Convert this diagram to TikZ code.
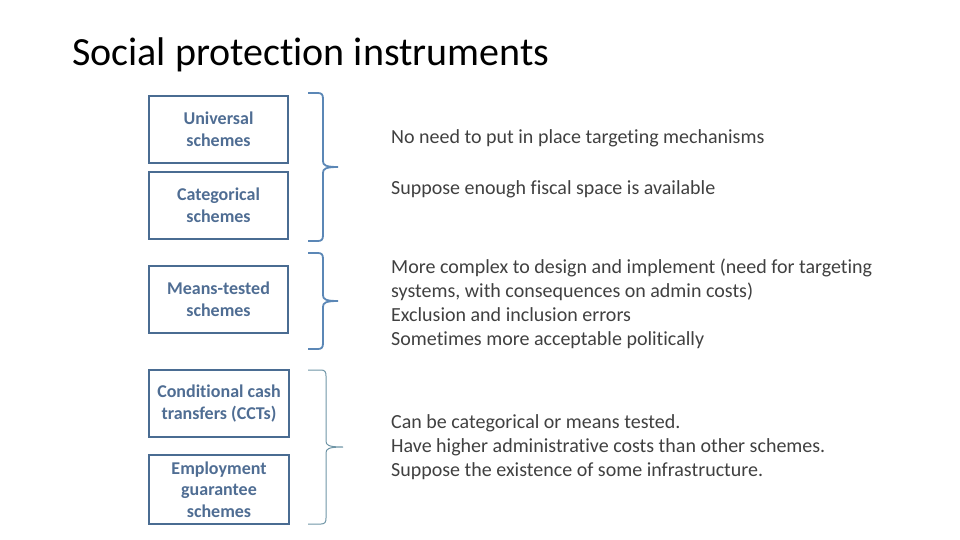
\documentclass[tikz,border=0pt]{standalone}
\usepackage{fontspec}
\setmainfont{Carlito}[Ligatures={NoCommon}]
\definecolor{boxline}{HTML}{4A6C92}
\definecolor{boxtext}{HTML}{4F6D93}
\definecolor{bracec}{HTML}{5B87B6}
\definecolor{bracet}{HTML}{6F95A6}
\definecolor{bodytext}{HTML}{404040}
\tikzset{
  schemebox/.style={draw=boxline, line width=1.8pt, minimum width=139pt, align=center,
    text=boxtext, font=\fontsize{18}{21.6}\selectfont\bfseries, inner sep=0pt},
  bodynote/.style={anchor=base west, align=left, text=bodytext, inner sep=0pt,
    font=\fontsize{20}{24}\selectfont},
  bracebl/.style={draw=bracec, line width=1.8pt},
  bracetl/.style={draw=bracet, line width=1pt}
}
\begin{document}
\begin{tikzpicture}[x=1pt,y=-1pt]
\useasboundingbox (0,0) rectangle (960,540);
\node[anchor=base west, inner sep=0pt, font=\fontsize{40}{48}\selectfont] (title) at (72,66) {Social protection instruments};

\node[schemebox, minimum height=67pt] (univ) at (218.5,129.5) {Universal\\schemes};
\node[schemebox, minimum height=67pt] (cat) at (218.5,205.5) {Categorical\\schemes};
\node[schemebox, minimum height=67pt] (means) at (218.5,299.5) {Means-tested\\schemes};
\node[schemebox, minimum height=67pt, minimum width=140pt] (cct) at (219,403.5) {Conditional cash\\transfers (CCTs)};
\node[schemebox, minimum height=69pt, minimum width=140pt] (emp) at (219,489.5) {Employment\\guarantee\\schemes};

% braces
\draw[bracebl] (308,93) -- (318,93) .. controls (322,93) and (323,95) .. (323,99)
  -- (323,161) .. controls (323,165) and (325,167) .. (338,167)
  (323,173) .. controls (323,169) and (325,167) .. (338,167)
  (323,173) -- (323,235) .. controls (323,239) and (322,241) .. (318,241) -- (308,241);
\draw[bracebl] (308,253) -- (318,253) .. controls (322,253) and (323,255) .. (323,259)
  -- (323,295) .. controls (323,299) and (325,301) .. (338,301)
  (323,307) .. controls (323,303) and (325,301) .. (338,301)
  (323,307) -- (323,343) .. controls (323,347) and (322,349) .. (318,349) -- (308,349);
\draw[bracetl] (308,370) -- (321,370) .. controls (325,370) and (326,372) .. (326,376)
  -- (326,441) .. controls (326,445) and (328,447) .. (343,447)
  (326,453) .. controls (326,449) and (328,447) .. (343,447)
  (326,453) -- (326,518) .. controls (326,522) and (325,524) .. (321,524) -- (308,524);

\node[bodynote] (n1) at (391,144) {No need to put in place targeting mechanisms};
\node[bodynote] (n2) at (391,194) {Suppose enough fiscal space is available};
\node[bodynote] (n3) at (391,345) {More complex to design and implement (need for targeting\\systems, with consequences on admin costs)\\Exclusion and inclusion errors\\Sometimes more acceptable politically};
\node[bodynote] (n4) at (391,476) {Can be categorical or means tested.\\Have higher administrative costs than other schemes.\\Suppose the existence of some infrastructure.};
\end{tikzpicture}
\end{document}
